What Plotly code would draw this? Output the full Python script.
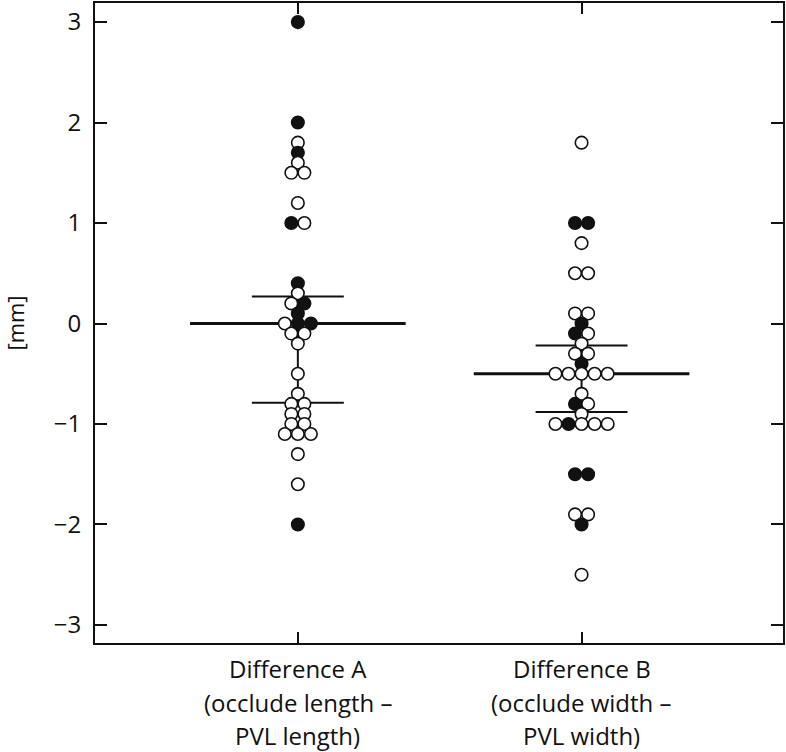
import plotly.graph_objects as go

# ---------------- data ----------------
categories = ["Difference A", "Difference B"]
label_lines = [
    ["Difference A", "(occlude length –", "PVL length)"],
    ["Difference B", "(occlude width –", "PVL width)"],
]

a_values = [3.0, 2.0, 1.8, 1.7, 1.6, 1.5, 1.5, 1.2, 1.0, 1.0, 0.4, 0.3, 0.2, 0.2, 0.1,
            0.0, 0.0, 0.0, -0.1, -0.1, -0.2, -0.5, -0.7, -0.8, -0.8, -0.9, -0.9,
            -1.0, -1.0, -1.1, -1.1, -1.1, -1.3, -1.6, -2.0]
a_filled = [1, 1, 0, 1, 0, 0, 0, 0, 1, 0, 1, 0, 0, 1, 1,
            0, 1, 1, 0, 0, 0, 0, 0, 0, 0, 0, 0,
            0, 0, 0, 0, 0, 0, 0, 1]

b_values = [1.8, 1.0, 1.0, 0.8, 0.5, 0.5, 0.1, 0.1, 0.0, -0.1, -0.1, -0.2, -0.3, -0.3, -0.4,
            -0.5, -0.5, -0.5, -0.5, -0.5, -0.7, -0.8, -0.8, -0.9,
            -1.0, -1.0, -1.0, -1.0, -1.0, -1.5, -1.5, -1.9, -1.9, -2.0, -2.5]
b_filled = [0, 1, 1, 0, 0, 0, 0, 0, 1, 1, 0, 0, 0, 0, 1,
            0, 0, 0, 0, 0, 0, 1, 0, 0,
            0, 1, 0, 0, 0, 1, 1, 0, 0, 1, 0]

medians = [0.0, -0.5]
q_upper = [0.27, -0.22]
q_lower = [-0.79, -0.88]

y_ticks = [3, 2, 1, 0, -1, -2, -3]
y_ticktext = ["3", "2", "1", "0", "−1", "−2", "−3"]

# ---------------- style ----------------
FONT = "Open Sans"
INK = "#111111"
DOT_SPACING = 0.046
MEDIAN_HALF = 0.38
QUART_HALF = 0.162
LABEL_OFFSETS = [25, 59, 92]


def swarm_offsets(values):
    counts = {}
    for v in values:
        counts[v] = counts.get(v, 0) + 1
    seen = {}
    offs = []
    for v in values:
        i = seen.get(v, 0)
        seen[v] = i + 1
        offs.append((i - (counts[v] - 1) / 2) * DOT_SPACING)
    return offs


fig = go.Figure()

# summary lines (median, quartiles, vertical IQR)
mx, my, qx, qy, vx, vy = [], [], [], [], [], []
for gi in range(len(categories)):
    mx += [gi - MEDIAN_HALF, gi + MEDIAN_HALF, None]
    my += [medians[gi], medians[gi], None]
    for q in (q_upper[gi], q_lower[gi]):
        qx += [gi - QUART_HALF, gi + QUART_HALF, None]
        qy += [q, q, None]
    vx += [gi, gi, None]
    vy += [q_upper[gi], q_lower[gi], None]

fig.add_trace(go.Scatter(x=vx, y=vy, mode="lines", line=dict(color=INK, width=2),
                         hoverinfo="skip", showlegend=False))
fig.add_trace(go.Scatter(x=qx, y=qy, mode="lines", line=dict(color=INK, width=2),
                         hoverinfo="skip", showlegend=False))
fig.add_trace(go.Scatter(x=mx, y=my, mode="lines", line=dict(color=INK, width=3),
                         hoverinfo="skip", showlegend=False))

# dots
for gi, (vals, fills) in enumerate([(a_values, a_filled), (b_values, b_filled)]):
    offs = swarm_offsets(vals)
    xs = [gi + o for o in offs]
    colors = [INK if f else "white" for f in fills]
    fig.add_trace(go.Scatter(
        x=xs, y=vals, mode="markers",
        marker=dict(size=12.5, color=colors, line=dict(color=INK, width=1.6)),
        showlegend=False, name=categories[gi]))

# category labels (three lines each)
annotations = []
for gi, lines in enumerate(label_lines):
    for li, txt in enumerate(lines):
        annotations.append(dict(
            x=gi, xref="x", y=0, yref="paper", yanchor="middle",
            yshift=-LABEL_OFFSETS[li], text=txt, showarrow=False,
            font=dict(family=FONT, size=24, color=INK)))

fig.update_layout(
    width=786, height=752,
    margin=dict(l=95, r=2, t=1, b=109),
    paper_bgcolor="white", plot_bgcolor="white",
    annotations=annotations,
    font=dict(family=FONT, size=22, color=INK),
    xaxis=dict(
        range=[-0.715, 1.71], tickvals=[0, 1], showticklabels=False,
        ticks="inside", ticklen=11, tickwidth=2, tickcolor=INK,
        showline=True, linewidth=2, linecolor=INK, mirror="ticks",
        showgrid=False, zeroline=False),
    yaxis=dict(
        range=[-3.18, 3.19], tickvals=y_ticks, ticktext=y_ticktext,
        ticks="inside", ticklen=12, tickwidth=2, tickcolor=INK,
        showline=True, linewidth=2, linecolor=INK, mirror="ticks",
        showgrid=False, zeroline=False, ticklabelstandoff=7,
        tickfont=dict(family=FONT, size=24, color=INK),
        title=dict(text="[mm]", font=dict(family=FONT, size=22, color=INK), standoff=26)),
)

fig.write_html("out.html", config={"displayModeBar": False},
               post_script="document.body.style.margin='0px';")
